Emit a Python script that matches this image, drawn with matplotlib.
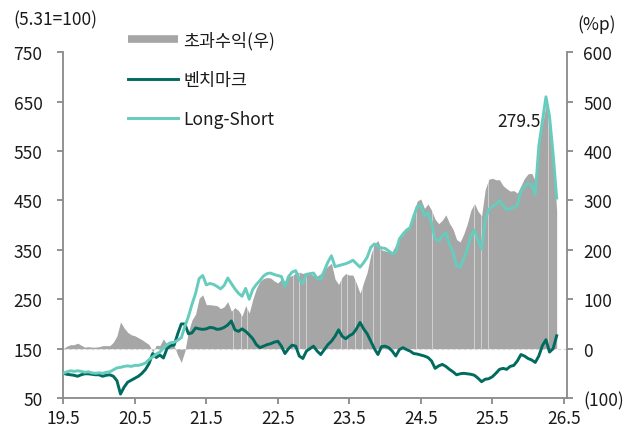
import matplotlib
matplotlib.use("Agg")
import matplotlib.pyplot as plt
from matplotlib.lines import Line2D
import numpy as np

plt.rcParams['font.family'] = ['Noto Sans CJK KR', 'DejaVu Sans']

# ---- data (x in years, "19.5" = 2019 May) ----
years = [19.50, 19.55, 19.60, 19.65, 19.70, 19.75, 19.80, 19.85, 19.90, 19.95,
         20.00, 20.05, 20.10, 20.15, 20.20, 20.25, 20.30, 20.35, 20.40, 20.45,
         20.50, 20.55, 20.60, 20.65, 20.70, 20.75, 20.80, 20.85, 20.90, 20.95,
         21.00, 21.05, 21.10, 21.15, 21.20, 21.25, 21.30, 21.35, 21.40, 21.45,
         21.50, 21.55, 21.60, 21.65, 21.70, 21.75, 21.80, 21.85, 21.90, 21.95,
         22.00, 22.05, 22.10, 22.15, 22.20, 22.25, 22.30, 22.35, 22.40, 22.45,
         22.50, 22.55, 22.60, 22.65, 22.70, 22.75, 22.80, 22.85, 22.90, 22.95,
         23.00, 23.05, 23.10, 23.15, 23.20, 23.25, 23.30, 23.35, 23.40, 23.45,
         23.50, 23.55, 23.60, 23.65, 23.70, 23.75, 23.80, 23.85, 23.90, 23.95,
         24.00, 24.05, 24.10, 24.15, 24.20, 24.25, 24.30, 24.35, 24.40, 24.45,
         24.50, 24.55, 24.60, 24.65, 24.70, 24.75, 24.80, 24.85, 24.90, 24.95,
         25.00, 25.05, 25.10, 25.15, 25.20, 25.25, 25.30, 25.35, 25.40, 25.45,
         25.50, 25.55, 25.60, 25.65, 25.70, 25.75, 25.80, 25.85, 25.90, 25.95,
         26.00, 26.05, 26.10, 26.15, 26.20, 26.25, 26.30, 26.35, 26.40]

long_short = [100, 103, 105, 104, 105, 104, 102, 103, 101, 100,
              101, 100, 102, 103, 107, 111, 112, 114, 115, 114,
              116, 116, 118, 121, 128, 133, 139, 143, 151, 158,
              162, 163, 167, 172, 195, 215, 240, 262, 292, 298,
              279, 282, 280, 276, 271, 278, 293, 282, 271, 262,
              256, 272, 250, 270, 280, 288, 297, 302, 303, 300,
              298, 296, 276, 296, 305, 308, 290, 282, 300, 302,
              303, 292, 290, 308, 325, 338, 316, 318, 320, 322,
              325, 329, 322, 315, 324, 335, 355, 362, 357, 354,
              353, 348, 342, 345, 372, 382, 390, 395, 418, 438,
              440, 419, 425, 405, 372, 368, 378, 385, 362, 345,
              318, 315, 332, 352, 378, 390, 368, 352, 410, 432,
              438, 442, 450, 440, 432, 433, 436, 440, 468, 480,
              484, 482, 462, 560, 610, 660, 620, 545, 455]

benchmark = [100, 98, 97, 96, 94, 97, 99, 99, 98, 97,
             97, 94, 96, 97, 94, 85, 58, 72, 82, 86,
             90, 94, 100, 108, 120, 140, 132, 137, 131, 150,
             156, 157, 180, 200, 200, 180, 182, 192, 190, 189,
             190, 193, 192, 189, 190, 193, 198, 206, 188, 185,
             190, 185, 178, 170, 158, 152, 155, 158, 160, 163,
             165, 155, 140, 150, 157, 155, 135, 130, 145, 150,
             155, 145, 138, 148, 158, 165, 175, 188, 175, 170,
             176, 180, 190, 203, 190, 180, 165, 150, 138, 154,
             155, 152, 145, 135, 148, 152, 148, 145, 140, 139,
             137, 135, 132, 125, 110, 115, 118, 114, 108, 103,
             97, 99, 100, 99, 98, 96, 90, 83, 88, 89,
             93, 100, 108, 110, 108, 114, 116, 125, 138, 135,
             130, 127, 122, 135, 156, 168, 143, 150, 176]

# data gaps (holidays) visible as thin light lines in the excess-return area
gap_years = [21.88, 21.98, 22.07, 22.71, 22.80, 22.90, 23.38, 23.47, 23.58,
             23.68, 23.83, 23.93, 24.43, 24.66, 25.24, 25.34, 25.44, 26.28]

x_ticks = [19.5, 20.5, 21.5, 22.5, 23.5, 24.5, 25.5, 26.5]
x_labels = ['19.5', '20.5', '21.5', '22.5', '23.5', '24.5', '25.5', '26.5']
left_ticks = [50, 150, 250, 350, 450, 550, 650, 750]
right_ticks = [-100, 0, 100, 200, 300, 400, 500, 600]
right_labels = ['(100)', '0', '100', '200', '300', '400', '500', '600']
last_excess_label = '279.5'
legend_labels = ['초과수익(우)', '벤치마크', 'Long-Short']

# ---- styling ----
C_GREY = '#A6A6A6'
C_BM = '#006B5E'
C_LS = '#66CCBE'
C_AX = '#898989'
C_TXT = '#1a1a1a'
FS = 12.5

x = np.array(years)
ls = np.array(long_short, dtype=float)
bm = np.array(benchmark, dtype=float)
excess = ls - bm  # %p, right axis (0 on right = 150 on left)

fig = plt.figure(figsize=(6.25, 4.27), dpi=100)
ax = fig.add_axes([0.1013, 0.0656, 0.8054, 0.8094])
ax2 = ax.twinx()

ax.fill_between(x, 150, 150 + excess, color=C_GREY, lw=0, zorder=1)
ax.vlines(gap_years, 150, 750, color='white', lw=0.45, alpha=0.75, zorder=2)
ax.axhline(150, color='#d8d8d8', lw=0.8, ls=(0, (3, 2)), zorder=2)
ax.plot(x, bm, color=C_BM, lw=2.1, zorder=4, solid_joinstyle='round')
ax.plot(x, ls, color=C_LS, lw=2.1, zorder=5, solid_joinstyle='round')

ax.set_xlim(19.5, 26.54)
ax.set_ylim(50, 750)
ax2.set_ylim(-100, 600)

ax.set_xticks(x_ticks)
ax.set_xticklabels(x_labels)
ax.set_yticks(left_ticks)
ax.set_yticklabels([str(v) for v in left_ticks])
ax2.set_yticks(right_ticks)
ax2.set_yticklabels(right_labels)

for a in (ax, ax2):
    for s in a.spines.values():
        s.set_color(C_AX)
        s.set_linewidth(1.3)
    a.spines['top'].set_visible(False)
ax.spines['right'].set_visible(False)
ax2.spines['left'].set_visible(False)
ax2.spines['bottom'].set_visible(False)

ax.tick_params(axis='y', direction='out', length=4, width=1.3, color=C_AX,
               labelsize=FS, labelcolor=C_TXT, pad=11)
ax.tick_params(axis='x', direction='out', length=4, width=1.3, color=C_AX,
               labelsize=FS, labelcolor=C_TXT, pad=4)
ax2.tick_params(axis='y', direction='out', length=4, width=1.3, color=C_AX,
                labelsize=FS, labelcolor=C_TXT, pad=8)

ax.text(26.17, 611, last_excess_label, ha='right', va='center',
        fontsize=FS, color=C_TXT, zorder=6)

fig.text(13 / 625, 1 - 20 / 427, '(5.31=100)', ha='left', va='center',
         fontsize=FS, color=C_TXT)
fig.text(577 / 625, 1 - 25 / 427, '(%p)', ha='left', va='center',
         fontsize=FS, color=C_TXT)

handles = [Line2D([], [], color=C_GREY, lw=5.5, solid_capstyle='butt'),
           Line2D([], [], color=C_BM, lw=2.1),
           Line2D([], [], color=C_LS, lw=2.1)]
leg = fig.legend(handles, legend_labels, loc='upper left',
                 bbox_to_anchor=(128 / 625, 1 - 32 / 427), frameon=False,
                 fontsize=FS, handlelength=2.9, handletextpad=0.3,
                 labelspacing=1.22, borderpad=0, borderaxespad=0)
for t in leg.get_texts():
    t.set_color(C_TXT)

fig.savefig('out.png', dpi=100)
